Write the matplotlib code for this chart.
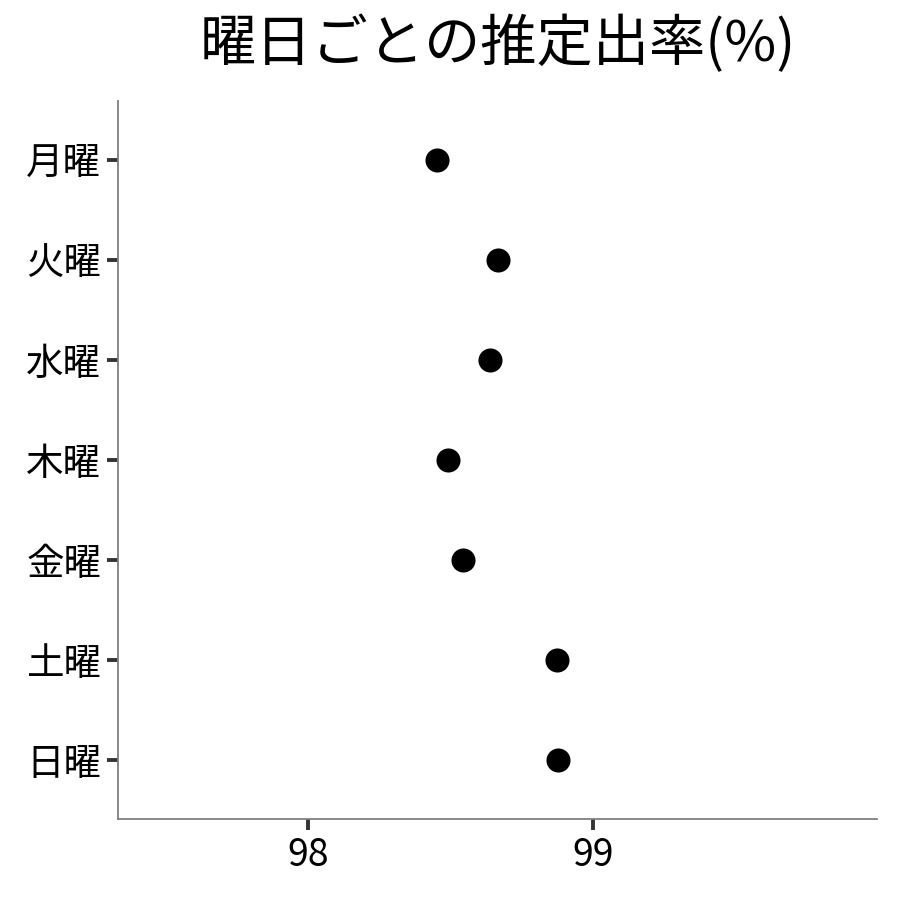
import matplotlib
matplotlib.use("Agg")
import matplotlib.pyplot as plt

plt.rcParams['font.family'] = ['Noto Sans CJK JP', 'DejaVu Sans']

days = ["月曜", "火曜", "水曜", "木曜", "金曜", "土曜", "日曜"]
rates = [98.453, 98.665, 98.64, 98.49, 98.545, 98.873, 98.877]
xticks = [98, 99]
title = "曜日ごとの推定出率(%)"

fig = plt.figure(figsize=(9, 9), dpi=100)
ax = fig.add_axes([118/900, 81/900, (877-118)/900, (819-101)/900])

ypos = list(range(len(days)))
ax.scatter(rates, ypos, s=300, color="black", zorder=3, linewidths=0)

ax.set_yticks(ypos)
ax.set_yticklabels(days)
ax.set_ylim(len(days) - 1 + 0.59, -0.59)
ax.set_xticks(xticks)
ax.set_xticklabels([str(t) for t in xticks])
ax.set_xlim(97.33, 100.0)

for s in ["top", "right"]:
    ax.spines[s].set_visible(False)
for s in ["left", "bottom"]:
    ax.spines[s].set_color("#7f7f7f")
    ax.spines[s].set_linewidth(1.3)

ax.tick_params(axis="both", length=8, width=2.8, color="#333333",
               labelsize=27, labelcolor="black", pad=4)

fig.text((118+877)/2/900, 1 - 45/900, title, ha="center", va="center", fontsize=40.5)

fig.savefig("out.png", dpi=100)
